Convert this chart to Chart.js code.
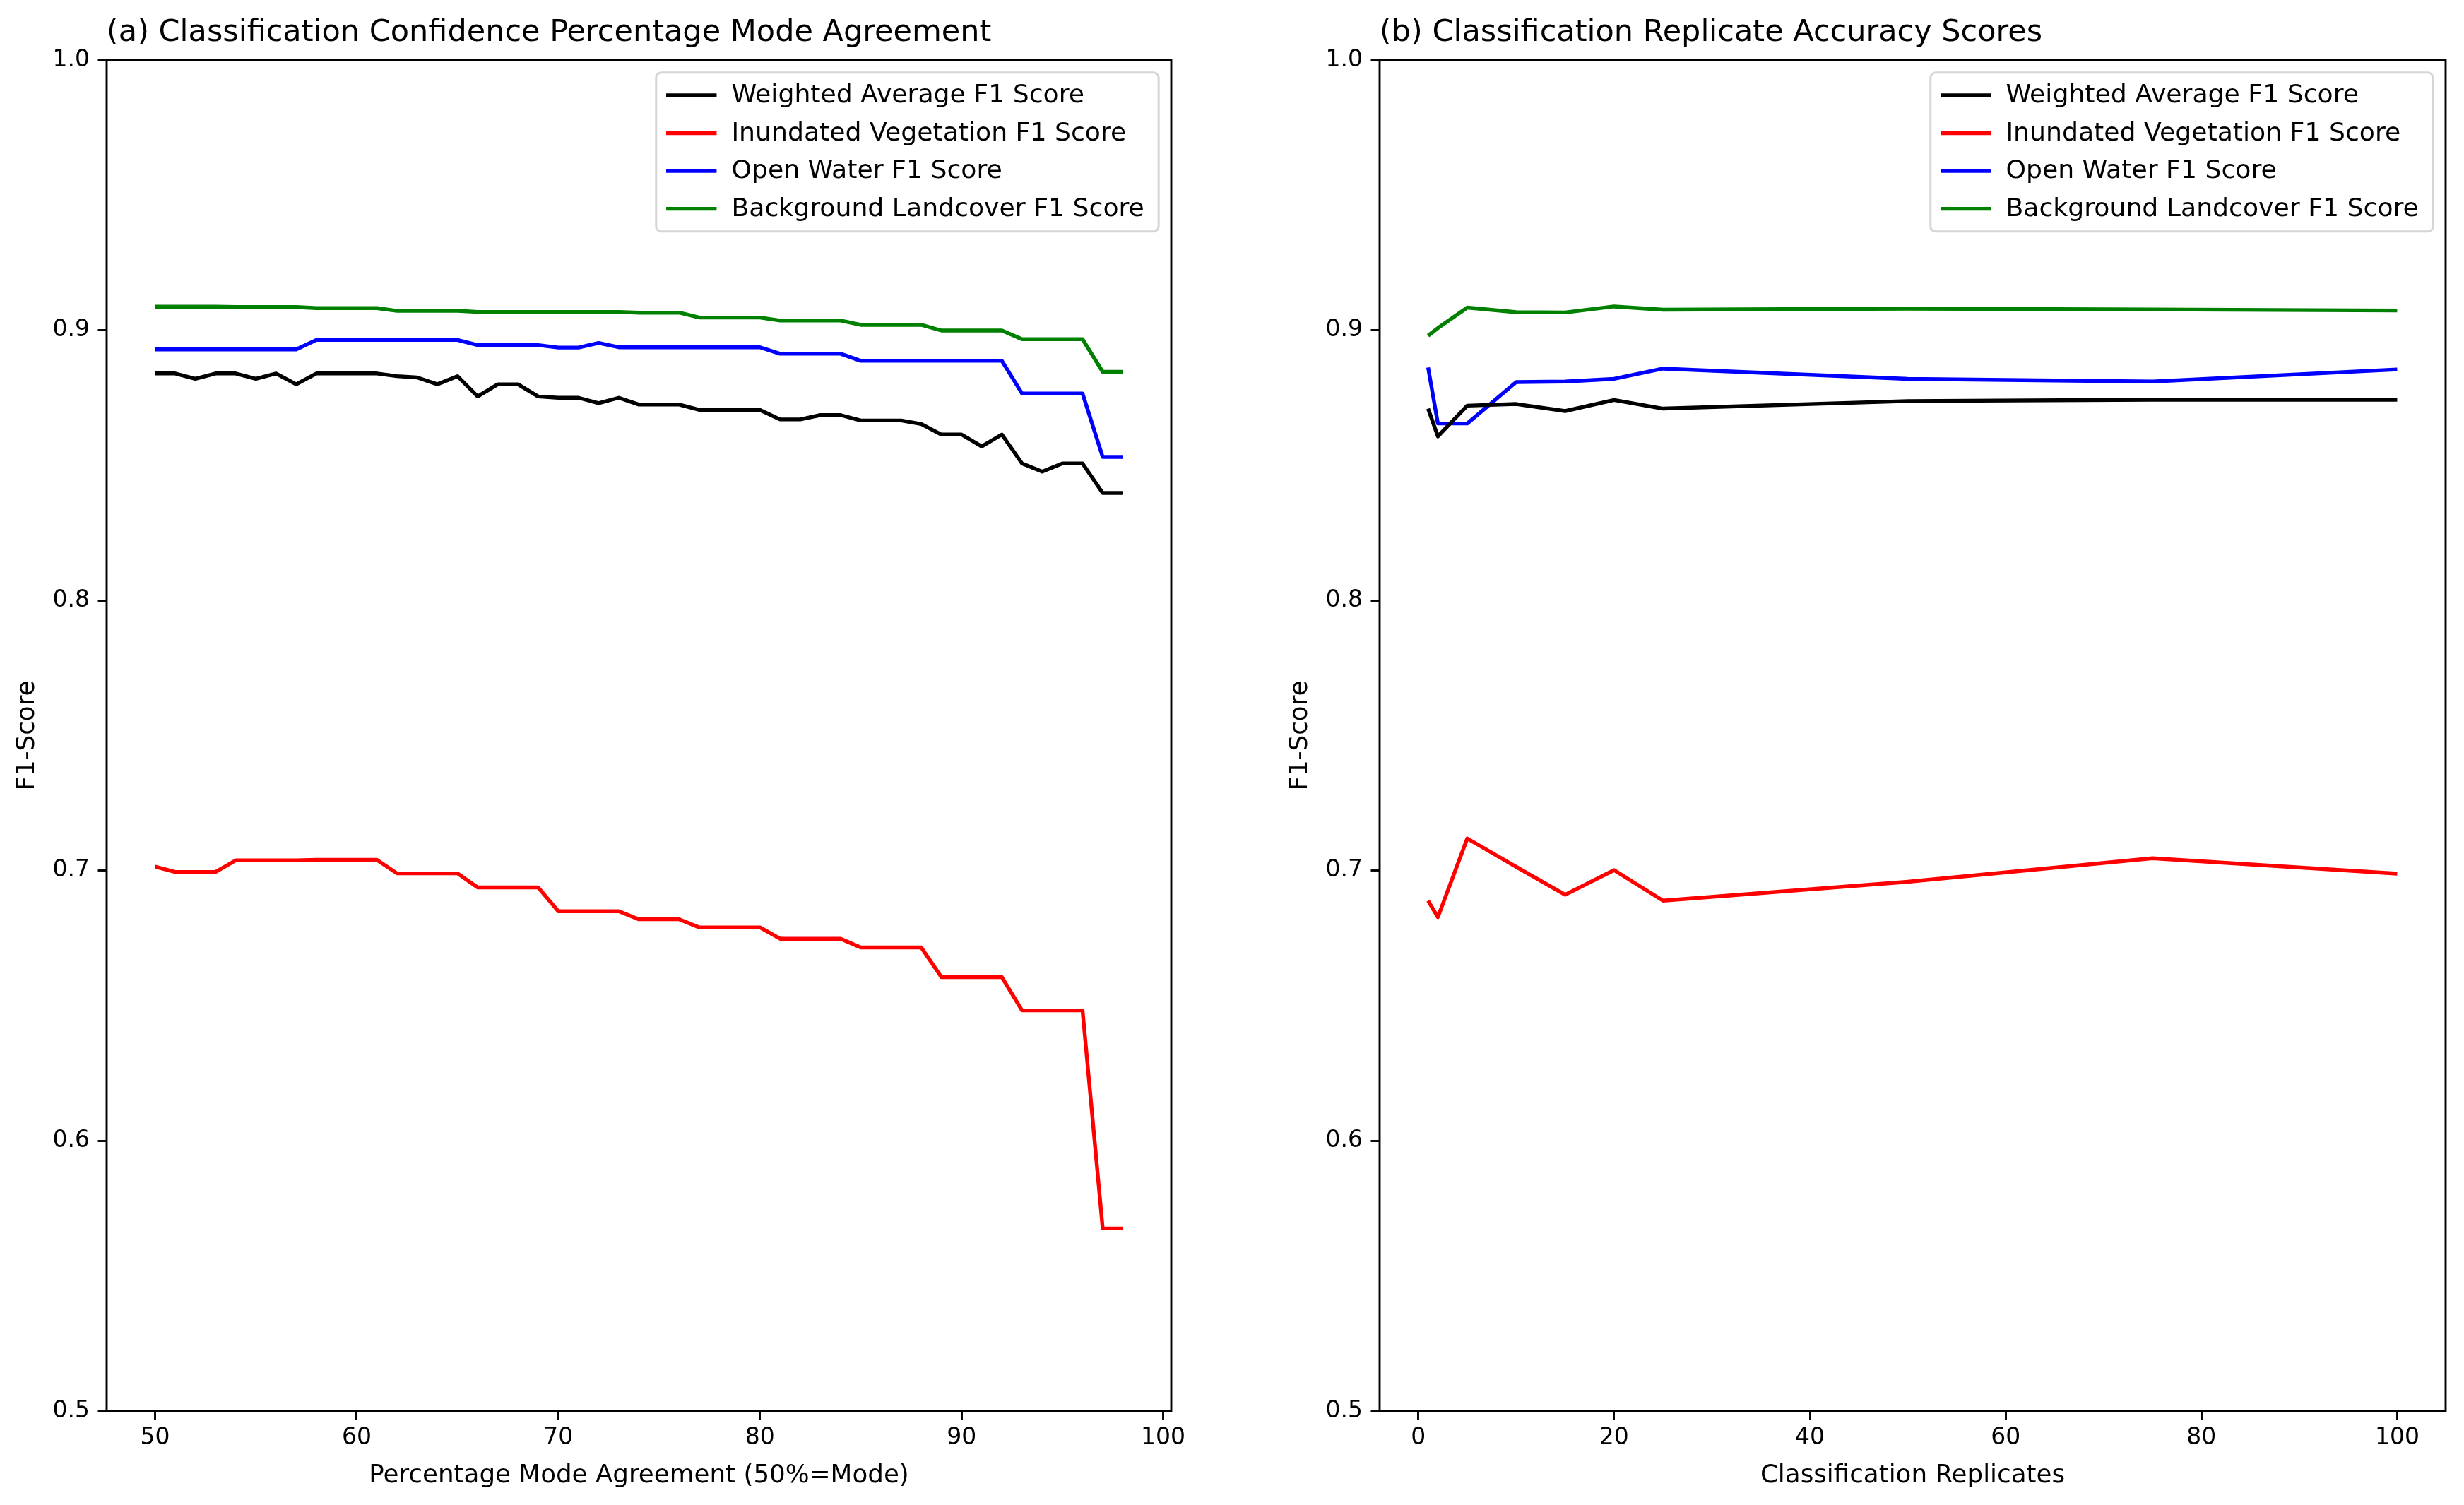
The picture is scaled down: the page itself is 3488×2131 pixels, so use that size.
<!DOCTYPE html>
<html>
<head>
<meta charset="utf-8">
<script src="https://cdn.jsdelivr.net/npm/chart.js@4.4.1/dist/chart.umd.min.js"></script>
<style>
html, body { margin: 0; padding: 0; background: #fff; overflow: hidden; }
#wrapA { position: absolute; left: 0; top: 0; width: 1802px; height: 2131px; }
#wrapB { position: absolute; left: 1802px; top: 0; width: 1686px; height: 2131px; }
</style>
</head>
<body>
<div id="wrapA"><canvas id="chartA" width="1802" height="2131"></canvas></div>
<div id="wrapB"><canvas id="chartB" width="1686" height="2131"></canvas></div>
<script>
// --- data ---
const seriesNames = ['Weighted Average F1 Score', 'Inundated Vegetation F1 Score', 'Open Water F1 Score', 'Background Landcover F1 Score'];
const seriesColors = ['#000000', '#ff0000', '#0000ff', '#008000'];

// (a) percentage mode agreement
const agreementPct = [50, 51, 52, 53, 54, 55, 56, 57, 58, 59, 60, 61, 62, 63, 64, 65, 66, 67, 68, 69, 70, 71, 72, 73, 74,
    75, 76, 77, 78, 79, 80, 81, 82, 83, 84, 85, 86, 87, 88, 89, 90, 91, 92, 93, 94, 95, 96, 97, 98];
const weightedA = [0.884, 0.884, 0.882, 0.884, 0.884, 0.882, 0.884, 0.880, 0.884, 0.884, 0.884, 0.884, 0.883, 0.8825, 0.880, 0.883,
    0.8755, 0.880, 0.880, 0.8755, 0.875, 0.875, 0.873, 0.875, 0.8725, 0.8725, 0.8725, 0.8705, 0.8705, 0.8705, 0.8705,
    0.867, 0.867, 0.8686, 0.8686, 0.8666, 0.8666, 0.8666, 0.8653, 0.8614, 0.8614, 0.857, 0.8614, 0.8507, 0.8477, 0.8507, 0.8507,
    0.8398, 0.8398];
const inundatedA = [0.7015, 0.6995, 0.6995, 0.6995, 0.7038, 0.7038, 0.7038, 0.7038, 0.704, 0.704, 0.704, 0.704, 0.699, 0.699, 0.699, 0.699,
    0.6938, 0.6938, 0.6938, 0.6938, 0.685, 0.685, 0.685, 0.685, 0.682, 0.682, 0.682, 0.679, 0.679, 0.679, 0.679,
    0.6748, 0.6748, 0.6748, 0.6748, 0.6716, 0.6716, 0.6716, 0.6716, 0.6606, 0.6606, 0.6606, 0.6606, 0.6483, 0.6483, 0.6483, 0.6483,
    0.5676, 0.5676];
const openWaterA = [0.8929, 0.8929, 0.8929, 0.8929, 0.8929, 0.8929, 0.8929, 0.8929, 0.8964, 0.8964, 0.8964, 0.8964, 0.8964, 0.8964, 0.8964, 0.8964,
    0.8945, 0.8945, 0.8945, 0.8945, 0.8936, 0.8936, 0.8953, 0.8937, 0.8937, 0.8937, 0.8937, 0.8937, 0.8937, 0.8937, 0.8937,
    0.8913, 0.8913, 0.8913, 0.8913, 0.8887, 0.8887, 0.8887, 0.8887, 0.8887, 0.8887, 0.8887, 0.8887, 0.8766, 0.8766, 0.8766, 0.8766,
    0.8531, 0.8531];
const backgroundA = [0.9087, 0.9087, 0.9087, 0.9087, 0.9086, 0.9086, 0.9086, 0.9086, 0.9082, 0.9082, 0.9082, 0.9082, 0.9072, 0.9072, 0.9072, 0.9072,
    0.9068, 0.9068, 0.9068, 0.9068, 0.9068, 0.9068, 0.9068, 0.9068, 0.9065, 0.9065, 0.9065, 0.9047, 0.9047, 0.9047, 0.9047,
    0.9036, 0.9036, 0.9036, 0.9036, 0.902, 0.902, 0.902, 0.902, 0.8999, 0.8999, 0.8999, 0.8999, 0.8967, 0.8967, 0.8967, 0.8967,
    0.8846, 0.8846];

// (b) classification replicates
const replicates = [1, 2, 5, 10, 15, 20, 25, 50, 75, 100];
const weightedB = [0.871, 0.8607, 0.8721, 0.8727, 0.8701, 0.8742, 0.871, 0.8738, 0.8743, 0.8743];
const inundatedB = [0.6889, 0.6828, 0.7119, 0.7014, 0.6911, 0.7002, 0.6889, 0.6959, 0.7046, 0.6989];
const openWaterB = [0.8862, 0.8655, 0.8655, 0.8808, 0.881, 0.882, 0.8858, 0.882, 0.881, 0.8855];
const backgroundB = [0.898, 0.9008, 0.9084, 0.9067, 0.9066, 0.9088, 0.9076, 0.908, 0.9077, 0.9073];

// ticks
const xTicksA = [50, 60, 70, 80, 90, 100];
const xTicksB = [0, 20, 40, 60, 80, 100];
const yTicks = [0.5, 0.6, 0.7, 0.8, 0.9, 1.0];

const FONT = '"DejaVu Sans", sans-serif';
Chart.defaults.font.family = FONT;
Chart.defaults.color = '#000';

// matplotlib-like box around the axes
const frame = {
    id: 'frame',
    afterDatasetsDraw(chart) {
        const a = chart.chartArea, ctx = chart.ctx;
        ctx.save();
        ctx.strokeStyle = '#000';
        ctx.lineWidth = 2.9;
        ctx.strokeRect(a.left, a.top, a.right - a.left, a.bottom - a.top);
        ctx.restore();
    }
};

// legend inside the plot, upper right
const boxLegend = {
    id: 'boxLegend',
    afterDatasetsDraw(chart) {
        const ctx = chart.ctx, a = chart.chartArea;
        const fs = 35.7;
        ctx.save();
        ctx.font = '36.2px ' + FONT;
        const sets = chart.data.datasets;
        const textW = Math.max(...sets.map(d => ctx.measureText(d.label).width));
        const pad = 0.4 * fs, handle = 2 * fs, gap = 21, spacing = 0.5 * fs, rowH = fs;
        const w = pad + handle + gap + textW + pad + 6;
        const h = 2 * pad + sets.length * rowH + (sets.length - 1) * spacing;
        const x = a.right - 0.5 * fs - w;
        const y = a.top + 0.5 * fs;
        ctx.beginPath();
        ctx.roundRect(x, y, w, h, 0.2 * fs);
        ctx.fillStyle = 'rgba(255,255,255,0.8)';
        ctx.fill();
        ctx.strokeStyle = 'rgba(204,204,204,0.8)';
        ctx.lineWidth = 3;
        ctx.stroke();
        sets.forEach((d, i) => {
            const cy = y + pad + rowH / 2 + i * (rowH + spacing);
            ctx.strokeStyle = d.borderColor;
            ctx.lineWidth = 5.4;
            ctx.beginPath();
            ctx.moveTo(x + pad, cy);
            ctx.lineTo(x + pad + handle, cy);
            ctx.stroke();
            ctx.fillStyle = '#000';
            ctx.textAlign = 'left';
            ctx.textBaseline = 'middle';
            ctx.fillText(d.label, x + pad + handle + gap, cy + 1);
        });
        ctx.restore();
    }
};

function makeDatasets(xs, lists) {
    return lists.map((ys, i) => ({
        label: seriesNames[i],
        data: xs.map((x, j) => ({ x: x, y: ys[j] })),
        borderColor: seriesColors[i],
        backgroundColor: seriesColors[i],
        borderWidth: 5.4,
        pointRadius: 0,
        tension: 0,
        fill: false,
        borderJoinStyle: 'round'
    }));
}

function makeOptions(titleText, xLabel, xMin, xMax, xTicks, padRight) {
    const tickGrid = { drawOnChartArea: false, drawTicks: true, tickLength: 12.5, tickWidth: 2.9, tickColor: '#000' };
    return {
        responsive: false,
        animation: false,
        layout: { padding: { left: 0, right: padRight, top: 0, bottom: 0 } },
        plugins: {
            legend: { display: false },
            tooltip: { enabled: false },
            title: {
                display: true, text: titleText, align: 'start', fullSize: false, color: '#000',
                font: { family: FONT, size: 43, weight: 'normal' },
                padding: { top: 21, bottom: 12.4 }
            }
        },
        scales: {
            x: {
                type: 'linear', min: xMin, max: xMax,
                afterBuildTicks: s => { s.ticks = xTicks.map(v => ({ value: v })); },
                afterFit: s => { s.height = 133; },
                grid: tickGrid,
                border: { display: false },
                ticks: { color: '#000', font: { family: FONT, size: 33 }, padding: 6, maxRotation: 0, callback: v => String(v) },
                title: { display: true, text: xLabel, color: '#000', font: { family: FONT, size: 35.7 }, padding: { top: 0, bottom: 20 } }
            },
            y: {
                type: 'linear', min: 0.5, max: 1.0,
                afterBuildTicks: s => { s.ticks = yTicks.map(v => ({ value: v })); },
                afterFit: s => { s.width = 151; },
                grid: tickGrid,
                border: { display: false },
                ticks: { color: '#000', font: { family: FONT, size: 33 }, padding: 11.5, callback: v => v.toFixed(1) },
                title: { display: true, text: 'F1-Score', color: '#000', font: { family: FONT, size: 35.7 }, padding: { top: 17.4, bottom: 0 } }
            }
        }
    };
}

new Chart(document.getElementById('chartA'), {
    type: 'line',
    data: { datasets: makeDatasets(agreementPct, [weightedA, inundatedA, openWaterA, backgroundA]) },
    options: makeOptions('(a) Classification Confidence Percentage Mode Agreement', 'Percentage Mode Agreement (50%=Mode)', 47.6, 100.4, xTicksA, 144),
    plugins: [frame, boxLegend]
});

new Chart(document.getElementById('chartB'), {
    type: 'line',
    data: { datasets: makeDatasets(replicates, [weightedB, inundatedB, openWaterB, backgroundB]) },
    options: makeOptions('(b) Classification Replicate Accuracy Scores', 'Classification Replicates', -3.95, 104.95, xTicksB, 26),
    plugins: [frame, boxLegend]
});
</script>
</body>
</html>
